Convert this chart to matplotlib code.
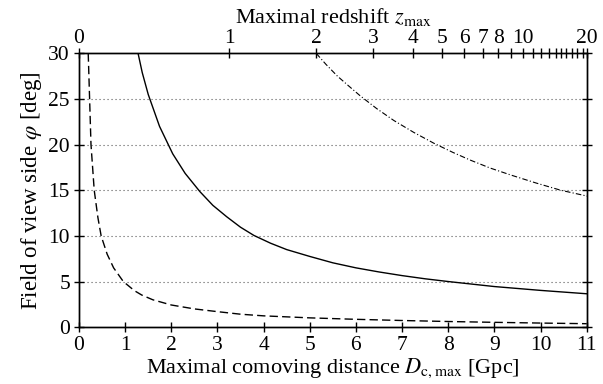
import matplotlib
matplotlib.use("Agg")
import matplotlib.pyplot as plt

plt.rcParams['font.family'] = ['Liberation Serif', 'DejaVu Serif']
plt.rcParams['mathtext.fontset'] = 'stix'
plt.rcParams['font.size'] = 15.5

# curves: comoving distance [Gpc] vs field of view side [deg]
d_solid = [1.28, 1.37, 1.50, 1.745, 2.03, 2.30, 2.62, 2.90, 3.20, 3.50, 3.79, 4.15, 4.50,
           5.0, 5.5, 6.0, 6.5, 7.0, 7.5, 8.0, 9.0, 10.0, 11.0]
phi_solid = [30, 27.9, 25.5, 22.0, 19.0, 16.85, 14.85, 13.35, 12.1, 10.95, 10.05, 9.2, 8.5,
             7.75, 7.05, 6.5, 6.05, 5.65, 5.3, 5.0, 4.45, 4.03, 3.66]

d_dashed = [0.20, 0.23, 0.26, 0.33, 0.41, 0.48, 0.61, 0.75, 0.96, 1.2, 1.36, 1.6, 2.0, 2.5,
            3.0, 3.5, 4.0, 5.0, 6.0, 7.0, 8.0, 9.0, 10.0, 11.0]
phi_dashed = [30, 25, 20, 15, 12, 10, 8, 6.5, 5, 4.0, 3.52, 3.0, 2.43, 2.0,
              1.70, 1.42, 1.24, 1.02, 0.86, 0.73, 0.62, 0.53, 0.45, 0.38]

d_dashdot = [5.14, 5.35, 5.6, 5.85, 6.09, 6.45, 6.82, 7.25, 7.69, 8.1, 8.48, 8.9, 9.35, 9.9,
             10.44, 11.02]
phi_dashdot = [30, 28.8, 27.5, 26.4, 25.36, 23.95, 22.65, 21.35, 20.15, 19.15, 18.3, 17.45, 16.68, 15.8,
               15, 14.35]

# top axis: redshift ticks placed at their comoving distance
z_labels = ['0', '1', '2', '3', '4', '5', '6', '7', '8', '', '10',
            '', '', '', '', '', '', '', '', '', '20']
z_dist = [0.0, 3.25, 5.14, 6.38, 7.24, 7.87, 8.35, 8.76, 9.08, 9.37, 9.61,
          9.83, 10.01, 10.19, 10.33, 10.44, 10.56, 10.68, 10.79, 10.91, 11.0]

fig = plt.figure(figsize=(6.03, 3.84), dpi=100)
ax = fig.add_axes([0.131, 0.148, 0.842, 0.713])

for y in [5, 10, 15, 20, 25]:
    ax.axhline(y, color='0.35', lw=0.8, ls=(0, (1, 2.6)), zorder=1)

ax.plot(d_solid, phi_solid, color='black', lw=1.0, zorder=3)
ax.plot(d_dashed, phi_dashed, color='black', lw=1.0, ls=(0, (6, 3)), zorder=3)
ax.plot(d_dashdot, phi_dashdot, color='black', lw=0.8, ls=(0, (5, 2, 1, 2)), zorder=3)

ax.set_xlim(0, 11)
ax.set_ylim(0, 30)
ax.set_xticks(range(0, 12))
ax.set_yticks(range(0, 31, 5))
ax.tick_params(direction='inout', length=7, width=1, top=False, right=True, pad=3)
ax.set_xlabel(r'Maximal comoving distance $D_{\rm c,max}$ [Gpc]', fontsize=16, labelpad=1)
ax.set_ylabel(r'Field of view side $\varphi$ [deg]', fontsize=16.5, labelpad=3)

top = ax.twiny()
top.set_xlim(ax.get_xlim())
top.set_xticks(z_dist)
top.set_xticklabels(z_labels)
top.tick_params(direction='inout', length=7, width=1, pad=0.5)
top.set_xlabel(r'Maximal redshift $z_{\rm max}$', fontsize=16, labelpad=4)

for a in (ax, top):
    for s in a.spines.values():
        s.set_linewidth(1.0)

fig.savefig('out.png', dpi=100)
